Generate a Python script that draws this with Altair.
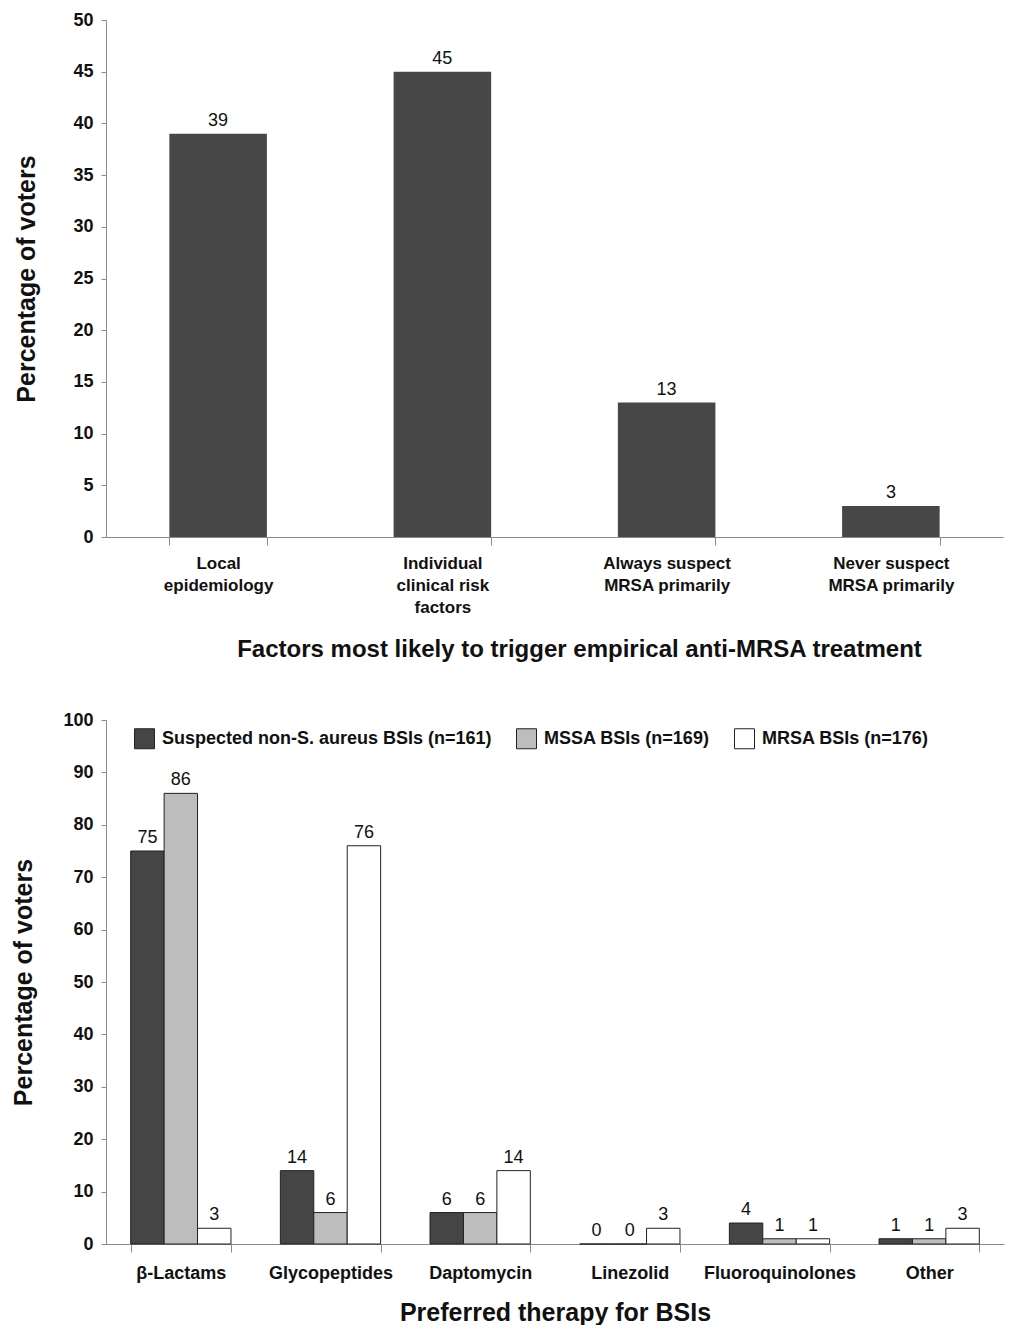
import altair as alt
import pandas as pd

# ---- data ----
factors = ["Local|epidemiology", "Individual|clinical risk|factors",
           "Always suspect|MRSA primarily", "Never suspect|MRSA primarily"]
factor_pct = [39, 45, 13, 3]

therapies = ["β-Lactams", "Glycopeptides", "Daptomycin", "Linezolid",
             "Fluoroquinolones", "Other"]
groups = ["Suspected non-S. aureus BSIs (n=161)", "MSSA BSIs (n=169)",
          "MRSA BSIs (n=176)"]
non_sa = [75, 14, 6, 0, 4, 1]
mssa = [86, 6, 6, 0, 1, 1]
mrsa = [3, 76, 14, 3, 1, 3]

FONT = "Liberation Sans"
AXC = "#8a8a8a"

# ---- top chart ----
df1 = pd.DataFrame({"factor": factors, "pct": factor_pct})

x1 = alt.X("factor:N", sort=factors,
           scale=alt.Scale(paddingInner=0.565, paddingOuter=0.2825),
           axis=alt.Axis(title="Factors most likely to trigger empirical anti-MRSA treatment",
                         labelExpr="split(datum.label, '|')", labelAngle=0,
                         tickBand="extent", tickSize=8, tickColor=AXC, domainColor=AXC,
                         labelFont=FONT, labelFontSize=17, labelFontWeight="bold",
                         labelColor="#111", labelLineHeight=22, labelPadding=10,
                         labelBaseline="top", titleX=473,
                         titleFont=FONT, titleFontSize=24, titleFontWeight="bold",
                         titleColor="#111", titlePadding=22))
y1 = alt.Y("pct:Q", scale=alt.Scale(domain=[0, 50], nice=False),
           axis=alt.Axis(title="Percentage of voters", values=list(range(0, 51, 5)),
                         grid=False, tickSize=5, tickColor=AXC, domainColor=AXC,
                         labelFont=FONT, labelFontSize=18, labelFontWeight="bold",
                         labelColor="#111", labelPadding=8,
                         titleFont=FONT, titleFontSize=25, titleFontWeight="bold",
                         titleColor="#111", titlePadding=33))

bars1 = alt.Chart(df1).mark_bar(color="#474747").encode(x=x1, y=y1)
text1 = alt.Chart(df1).mark_text(font=FONT, fontSize=18, color="#111",
                                 baseline="bottom", dy=-4).encode(
    x=alt.X("factor:N", sort=factors), y="pct:Q", text="pct:Q")
top = alt.layer(bars1, text1).properties(width=897, height=517)

# ---- bottom chart ----
rows = []
for i, t in enumerate(therapies):
    for g, vals in zip(groups, [non_sa, mssa, mrsa]):
        rows.append({"therapy": t, "group": g, "pct": vals[i]})
df2 = pd.DataFrame(rows)

x2 = alt.X("therapy:N", sort=therapies,
           scale=alt.Scale(paddingInner=0.33, paddingOuter=0.165),
           axis=alt.Axis(title="Preferred therapy for BSIs", labelAngle=0,
                         tickBand="extent", tickSize=8, tickColor=AXC, domainColor=AXC,
                         labelFont=FONT, labelFontSize=18, labelFontWeight="bold",
                         labelColor="#111", labelPadding=12,
                         titleFont=FONT, titleFontSize=25, titleFontWeight="bold",
                         titleColor="#111", titlePadding=18))
y2 = alt.Y("pct:Q", scale=alt.Scale(domain=[0, 100], nice=False),
           axis=alt.Axis(title="Percentage of voters", values=list(range(0, 101, 10)),
                         grid=False, tickSize=5, tickColor=AXC, domainColor=AXC,
                         labelFont=FONT, labelFontSize=18, labelFontWeight="bold",
                         labelColor="#111", labelPadding=8,
                         titleFont=FONT, titleFontSize=25, titleFontWeight="bold",
                         titleColor="#111", titlePadding=26))
color = alt.Color("group:N", sort=groups,
                  scale=alt.Scale(domain=groups, range=["#454545", "#bdbdbd", "#ffffff"]),
                  legend=alt.Legend(title=None, orient="none", legendX=28, legendY=8,
                                    direction="horizontal", columns=3,
                                    symbolType="square", symbolSize=400,
                                    symbolStrokeColor="#222", symbolStrokeWidth=1,
                                    symbolOpacity=1, labelFont=FONT, labelFontSize=18,
                                    labelFontWeight="bold", labelColor="#111",
                                    labelOffset=7, columnPadding=22, labelLimit=0))

bars2 = alt.Chart(df2).mark_bar(stroke="#222", strokeWidth=1).encode(
    x=x2, y=y2, color=color,
    xOffset=alt.XOffset("group:N", sort=groups))
text2 = alt.Chart(df2).mark_text(font=FONT, fontSize=18, color="#111",
                                 baseline="bottom", dy=-4).encode(
    x=alt.X("therapy:N", sort=therapies), y="pct:Q", text="pct:Q",
    xOffset=alt.XOffset("group:N", sort=groups))
bottom = alt.layer(bars2, text2).properties(width=898, height=524)

chart = (alt.concat(top, bottom, columns=1, spacing=50, align="none",
                    padding={"left": 3, "right": 3, "top": 3, "bottom": 0})
         .resolve_scale(color="independent")
         .configure(font=FONT)
         .configure_view(stroke=None))

chart.save("out.html", embed_options={"renderer": "svg", "actions": False})
